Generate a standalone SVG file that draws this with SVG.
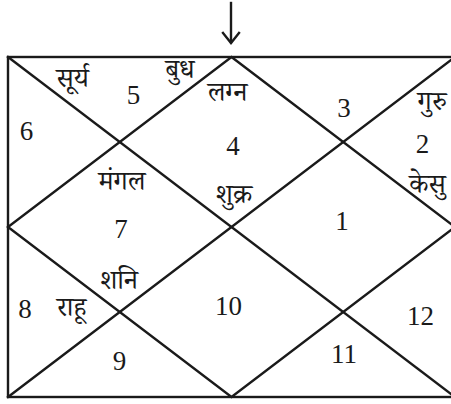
<svg xmlns="http://www.w3.org/2000/svg" width="451" height="404" viewBox="0 0 451 404">
<defs>
<style>
.ln{stroke:#1a1a1a;stroke-width:2.4;fill:none;stroke-linecap:square}
.num{font-family:"Liberation Serif","Times New Roman",serif;font-size:27px;fill:#1a1a1a;text-anchor:middle}
.hi{font-family:"Noto Serif Devanagari","Noto Sans Devanagari","Lohit Devanagari","FreeSerif","Liberation Serif",serif;font-size:27px;fill:#1a1a1a;text-anchor:middle}
</style>
</defs>
<rect x="0" y="0" width="451" height="404" fill="#ffffff"/>
<g id="connectors">
<rect class="ln" x="8" y="57" width="447" height="340"/>
<line class="ln" x1="8" y1="57" x2="455" y2="397"/>
<line class="ln" x1="455" y1="57" x2="8" y2="397"/>
<polygon class="ln" points="231.5,57 455,227 231.5,397 8,227"/>
<line class="ln" x1="231" y1="3" x2="231" y2="42" stroke-linecap="butt"/>
<polyline class="ln" points="223,33 231,43 239,33" stroke-linecap="butt"/>
</g>
<g id="house1"><text class="num" x="342" y="230">1</text></g>
<g id="house2"><text class="num" x="422.5" y="153">2</text><text class="hi" x="432" y="110">गुरु</text><text class="hi" x="427.5" y="193">केसु</text></g>
<g id="house3"><text class="num" x="344" y="117">3</text></g>
<g id="house4"><text class="num" x="233" y="155">4</text><text class="hi" x="227.5" y="101">लग्न</text><text class="hi" x="234" y="203">शुक्र</text></g>
<g id="house5"><text class="num" x="133.5" y="104">5</text><text class="hi" x="72.5" y="87">सूर्य</text><text class="hi" x="180" y="78">बुध</text></g>
<g id="house6"><text class="num" x="26.5" y="140">6</text></g>
<g id="house7"><text class="num" x="121" y="238">7</text><text class="hi" x="122" y="190">मंगल</text></g>
<g id="house8"><text class="num" x="25" y="318">8</text><text class="hi" x="71.5" y="316">राहू</text><text class="hi" x="119" y="289">शनि</text></g>
<g id="house9"><text class="num" x="119.5" y="370">9</text></g>
<g id="house10"><text class="num" x="228.5" y="315">10</text></g>
<g id="house11"><text class="num" x="344" y="363">11</text></g>
<g id="house12"><text class="num" x="420.5" y="325">12</text></g>
</svg>
